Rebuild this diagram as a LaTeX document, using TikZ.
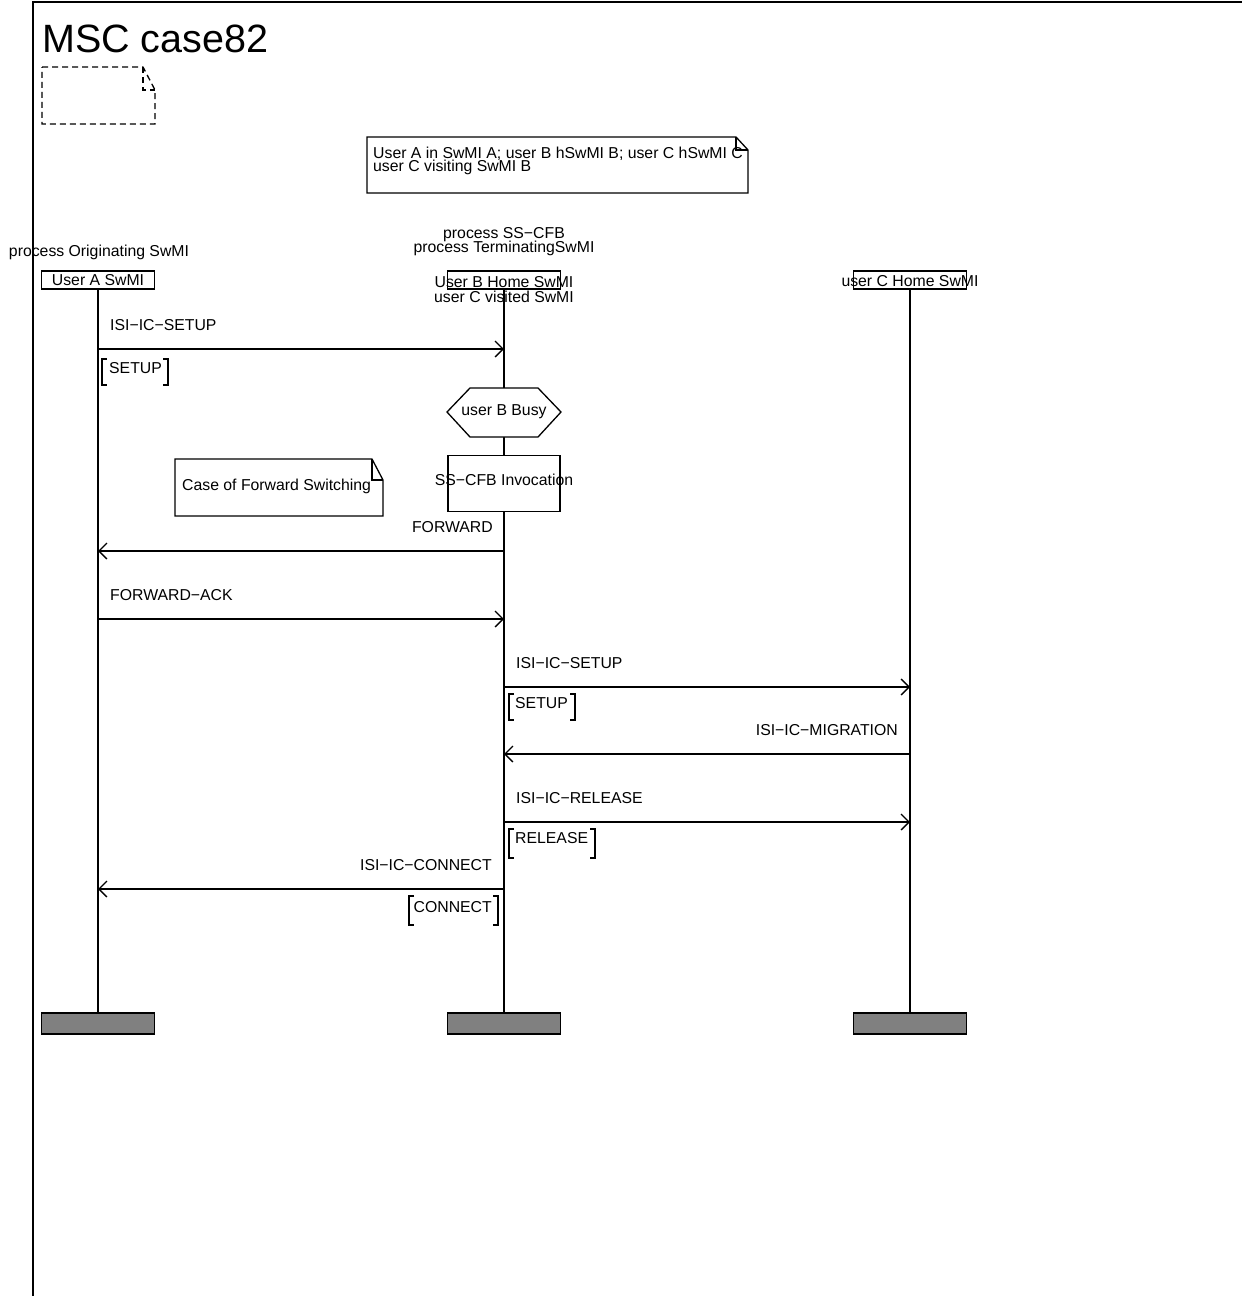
\documentclass[tikz,border=0pt]{standalone}
\usepackage{fontspec}
\setmainfont{Liberation Sans}
\usetikzlibrary{arrows.meta}
\newcommand{\pbrack}[4]{%
  \draw[ln] (#1+5,#3) -- (#1,#3) -- (#1,#4) -- (#1+5,#4);
  \draw[ln] (#2-5,#3) -- (#2,#3) -- (#2,#4) -- (#2-5,#4);}
\begin{document}
\begin{tikzpicture}[x=1pt,y=-1pt,
  every node/.style={font=\fontsize{15.8}{15}\selectfont, inner sep=0pt},
  ln/.style={line width=1.3pt},
  msg/.style={ln, -{Straight Barb[length=8pt,width=16pt,line width=1.3pt]}},
  head/.style={draw, line width=1.4pt, minimum width=113pt, minimum height=18pt},
  endbox/.style={draw, line width=1.5pt, fill=gray, minimum width=113pt, minimum height=21pt},
  notebox/.style={ln, fill=white},
]
\useasboundingbox (0,0) rectangle (1242,1296);
% frame
\draw[line width=1.5pt] (33,1296) -- (33,2) -- (1242,2);
\node[anchor=base west, font=\fontsize{39.5}{42}\selectfont] (title) at (42,52) {MSC case82};
% dashed text symbol
\draw[ln, dash pattern=on 6pt off 4pt] (42,67) -- (143,67) -- (155,90) -- (155,124) -- (42,124) -- cycle;
\draw[ln, dash pattern=on 6pt off 4pt] (143,67) -- (143,90) -- (155,90);
% comment note
\draw[notebox] (367,137) -- (736,137) -- (748,150) -- (748,193) -- (367,193) -- cycle;
\draw[ln] (736,137) -- (736,150) -- (748,150);
\node[anchor=base west] (cm1) at (373,158) {User A in SwMI A; user B hSwMI B; user C hSwMI C};
\node[anchor=base west] (cm2) at (373,171.5) {user C visiting SwMI B};
% instance headers
\node[anchor=base] (pA) at (99,256.5) {process Originating SwMI};
\node[anchor=base] (pB1) at (504,238.5) {process SS−CFB};
\node[anchor=base] (pB2) at (504,252.5) {process TerminatingSwMI};
\node[head] (hA) at (98,280) {User A SwMI};
\node[head] (hB) at (504,280) {};
\node[anchor=base] (tB1) at (504,287) {User B Home SwMI};
\node[anchor=base] (tB2) at (504,302) {user C visited SwMI};
\node[head] (hC) at (910,280) {};
\node[anchor=base] (tC) at (910,286.5) {user C Home SwMI};
% instance ends
\node[endbox] (eA) at (98,1023.5) {};
\node[endbox] (eB) at (504,1023.5) {};
\node[endbox] (eC) at (910,1023.5) {};
% lifelines
\draw[ln] (hA.south) -- (eA.north);
\draw[ln] (hB.south) -- (eB.north);
\draw[ln] (hC.south) -- (eC.north);
% condition
\draw[ln, fill=white] (447,412) -- (470,388) -- (538,388) -- (561,412) -- (538,437) -- (470,437) -- cycle;
\node (busy) at (504,412) {user B Busy};
% action
\node[draw, ln, fill=white, minimum width=112pt, minimum height=56pt] (act) at (504,483.5) {};
\node (actt) at (504,480) {SS−CFB Invocation};
% note forward switching
\draw[notebox] (175,459) -- (372,459) -- (383,480) -- (383,516) -- (175,516) -- cycle;
\draw[ln] (372,459) -- (372,480) -- (383,480);
\node[anchor=base west] (fs) at (182,490.5) {Case of Forward Switching};
% message end points
\coordinate (A1) at (98,349);  \coordinate (B1) at (504,349);
\coordinate (B2) at (504,551); \coordinate (A2) at (98,551);
\coordinate (A3) at (98,619);  \coordinate (B3) at (504,619);
\coordinate (B4) at (504,687); \coordinate (C4) at (910,687);
\coordinate (C5) at (910,754); \coordinate (B5) at (504,754);
\coordinate (B6) at (504,822); \coordinate (C6) at (910,822);
\coordinate (B7) at (504,889); \coordinate (A7) at (98,889);
% messages
\draw[msg] (A1) -- (B1);
\node[anchor=base west] (m1) at (110,330.5) {ISI−IC−SETUP};
\pbrack{102}{168}{359}{385}
\node[anchor=base west] (p1) at (109,373) {SETUP};
\draw[msg] (B2) -- (A2);
\node[anchor=base east] (m2) at (493,532.5) {FORWARD};
\draw[msg] (A3) -- (B3);
\node[anchor=base west] (m3) at (110,600.5) {FORWARD−ACK};
\draw[msg] (B4) -- (C4);
\node[anchor=base west] (m4) at (516,668.5) {ISI−IC−SETUP};
\pbrack{509}{575}{694}{720}
\node[anchor=base west] (p4) at (515,708.5) {SETUP};
\draw[msg] (C5) -- (B5);
\node[anchor=base east] (m5) at (898,735.5) {ISI−IC−MIGRATION};
\draw[msg] (B6) -- (C6);
\node[anchor=base west] (m6) at (516,803.5) {ISI−IC−RELEASE};
\pbrack{509}{595}{829}{858}
\node[anchor=base west] (p6) at (515,843.5) {RELEASE};
\draw[msg] (B7) -- (A7);
\node[anchor=base east] (m7) at (492,870.5) {ISI−IC−CONNECT};
\pbrack{409}{498}{896}{925}
\node[anchor=base east] (p7) at (492,912.5) {CONNECT};
\end{tikzpicture}
\end{document}
